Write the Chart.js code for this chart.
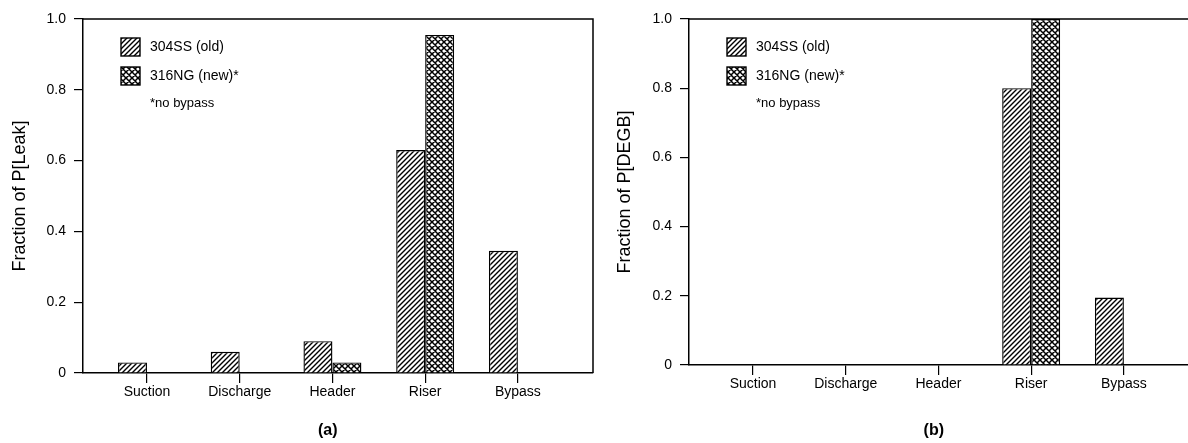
<!DOCTYPE html>
<html><head><meta charset="utf-8">
<script src="https://cdn.jsdelivr.net/npm/chart.js@4/dist/chart.umd.min.js"></script>
<style>
html,body{margin:0;padding:0;background:#fff;overflow:hidden;width:1188px;height:443px;}
#wrap{position:relative;width:1188px;height:443px;overflow:hidden;background:#fff;}
canvas{position:absolute;top:0;}
#c1{left:0}
#c2{left:596px}
</style></head><body>
<div id="wrap"><canvas id="c1" width="600" height="443"></canvas><canvas id="c2" width="610" height="443"></canvas></div>
<script>
// ---- data ----
const categories = ['Suction', 'Discharge', 'Header', 'Riser', 'Bypass'];
const seriesNames = ['304SS (old)', '316NG (new)*'];
const footnote = '*no bypass';
const leakOld = [0.03, 0.06, 0.09, 0.63, 0.345];
const leakNew = [null, null, 0.03, 0.955, null];
const degbOld = [null, null, null, 0.80, 0.195];
const degbNew = [null, null, null, 1.0, null];
const yTicks = [0, 0.2, 0.4, 0.6, 0.8, 1.0];
const yTickLabels = ['0', '0.2', '0.4', '0.6', '0.8', '1.0'];
const titles = ['Fraction of P[Leak]', 'Fraction of P[DEGB]'];
const captions = ['(a)', '(b)'];

Chart.defaults.font.family = '"Liberation Sans", Arial, Helvetica, sans-serif';
Chart.defaults.color = '#000';

function makeHatch() {
  const s = 5, c = document.createElement('canvas');
  c.width = c.height = s;
  const g = c.getContext('2d');
  g.fillStyle = '#fff'; g.fillRect(0, 0, s, s);
  g.strokeStyle = '#000'; g.lineWidth = 1.4;
  g.beginPath();
  g.moveTo(-1, s + 1); g.lineTo(s + 1, -1);
  g.moveTo(-1, 1); g.lineTo(1, -1);
  g.moveTo(s - 1, s + 1); g.lineTo(s + 1, s - 1);
  g.stroke();
  return g.createPattern(c, 'repeat');
}
function makeCross() {
  const s = 6, c = document.createElement('canvas');
  c.width = c.height = s;
  const g = c.getContext('2d');
  g.fillStyle = '#fff'; g.fillRect(0, 0, s, s);
  g.strokeStyle = '#000'; g.lineWidth = 1.5;
  g.beginPath();
  g.moveTo(-1, s + 1); g.lineTo(s + 1, -1);
  g.moveTo(-1, 1); g.lineTo(1, -1);
  g.moveTo(s - 1, s + 1); g.lineTo(s + 1, s - 1);
  g.moveTo(-1, -1); g.lineTo(s + 1, s + 1);
  g.moveTo(-1, s - 1); g.lineTo(1, s + 1);
  g.moveTo(s - 1, -1); g.lineTo(s + 1, 1);
  g.stroke();
  return g.createPattern(c, 'repeat');
}
const hatch = makeHatch();
const cross = makeCross();

const decor = {
  id: 'decor',
  afterDraw(chart, args, opts) {
    const ctx = chart.ctx, a = chart.chartArea;
    ctx.save();
    // frame (top/right)
    ctx.strokeStyle = '#000'; ctx.lineWidth = 1.5;
    ctx.beginPath();
    ctx.moveTo(a.left, a.top); ctx.lineTo(a.right, a.top); ctx.lineTo(a.right, a.bottom);
    ctx.stroke();
    // legend
    const lx = a.left + 38, ly = a.top + 19;
    ctx.font = '14px "Liberation Sans", Arial, sans-serif';
    ctx.textBaseline = 'middle'; ctx.textAlign = 'left';
    chart.data.datasets.forEach((ds, i) => {
      const y = ly + i * 29;
      ctx.fillStyle = ds.backgroundColor;
      ctx.fillRect(lx, y, 19, 18);
      ctx.lineWidth = 1.4; ctx.strokeStyle = '#000';
      ctx.strokeRect(lx, y, 19, 18);
      ctx.fillStyle = '#000';
      ctx.fillText(ds.label, lx + 29, y + 9);
    });
    ctx.font = '13px "Liberation Sans", Arial, sans-serif';
    ctx.fillText(footnote, lx + 29, ly + 2 * 29 + 7);
    // caption
    ctx.font = 'bold 16px "Liberation Sans", Arial, sans-serif';
    ctx.textAlign = 'center';
    ctx.fillText(opts.caption, a.left + a.width * 0.48, 431);
    ctx.restore();
  }
};

function makeChart(id, oldVals, newVals, title, caption, titlePad, yWidth, xHeight) {
  const toPts = vals => categories.map((c, i) => ({ x: i, y: vals[i] }));
  return new Chart(document.getElementById(id), {
    type: 'bar',
    data: {
      datasets: [
        { label: seriesNames[0], data: toPts(oldVals), backgroundColor: hatch, borderColor: '#000', borderWidth: 1.4,
          categoryPercentage: 0.625, barPercentage: 1.0 },
        { label: seriesNames[1], data: toPts(newVals), backgroundColor: cross, borderColor: '#000', borderWidth: 1.4,
          categoryPercentage: 0.625, barPercentage: 1.0 }
      ]
    },
    options: {
      responsive: false, animation: false, devicePixelRatio: 1,
      layout: { padding: { top: 19, right: 7, left: 0, bottom: 0 } },
      plugins: { legend: { display: false }, tooltip: { enabled: false }, decor: { caption } },
      scales: {
        x: {
          type: 'linear', min: -0.69, max: 4.81, offset: false,
          afterBuildTicks: s => { s.ticks = categories.map((c, i) => ({ value: i })); },
          afterFit: s => { s.height = xHeight; },
          ticks: { callback: v => categories[v], autoSkip: false, maxRotation: 0, padding: 1,
                   font: { size: 14 }, color: '#000' },
          grid: { drawOnChartArea: false, drawTicks: true, tickLength: 10, color: '#000', lineWidth: 1.2, offset: false },
          border: { display: true, color: '#000', width: 1.5 }
        },
        y: {
          min: 0, max: 1,
          afterBuildTicks: s => { s.ticks = yTicks.map(v => ({ value: v })); },
          afterFit: s => { s.width = yWidth; },
          ticks: { callback: v => yTickLabels[yTicks.indexOf(v)], padding: 8, font: { size: 14 }, color: '#000' },
          grid: { drawOnChartArea: false, drawTicks: true, tickLength: 9, color: '#000', lineWidth: 1.2 },
          border: { display: true, color: '#000', width: 1.5 },
          title: { display: true, text: title, font: { size: 18 }, color: '#000', padding: { top: titlePad, bottom: 0 } }
        }
      }
    },
    plugins: [decor]
  });
}

makeChart('c1', leakOld, leakNew, titles[0], captions[0], 9, 83, 70);
makeChart('c2', degbOld, degbNew, titles[1], captions[1], 18, 93, 78);
</script>
</body></html>
